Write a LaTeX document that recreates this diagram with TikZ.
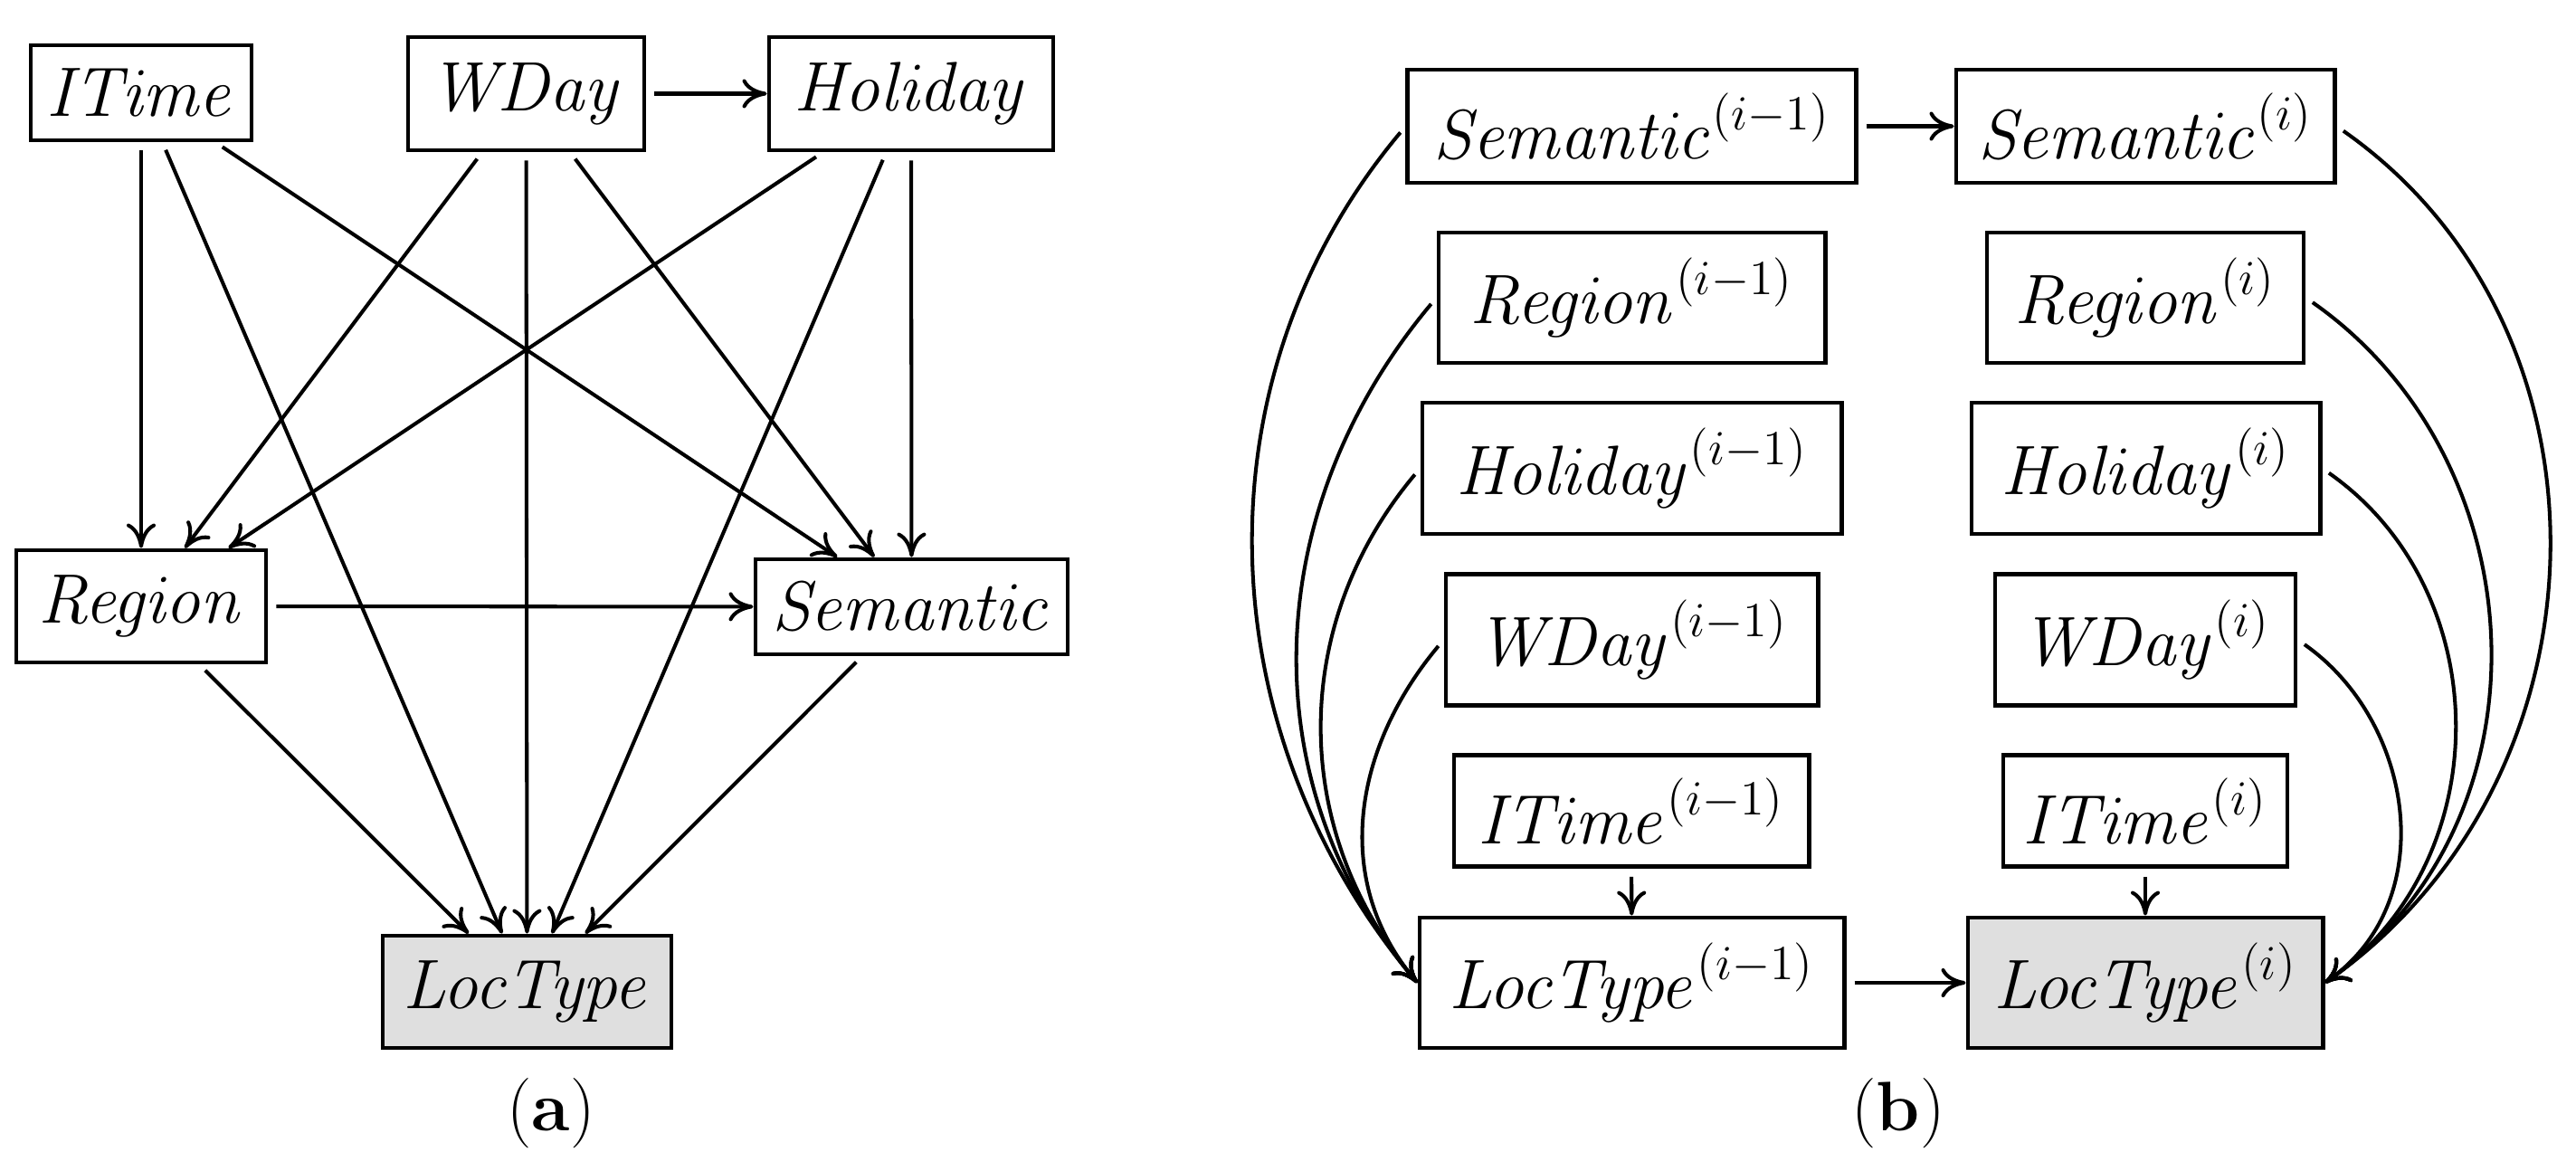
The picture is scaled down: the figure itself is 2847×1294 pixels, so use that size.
\RequirePackage{fix-cm}
\documentclass[tikz,border=0pt]{standalone}
\usetikzlibrary{arrows.meta}
\begin{document}
\begin{tikzpicture}[x=0.01cm,y=-0.01cm,
  font=\fontsize{22}{26}\selectfont,
  box/.style={draw=black, line width=1.35pt, inner sep=0pt, minimum width=#1},
  shaded/.style={fill=gray!25},
  arr/.style={-{To[length=0.27cm,width=0.32cm]}, line width=1.15pt, shorten <=0.09cm},
  caplabel/.style={inner sep=0pt}]
\useasboundingbox (0,0) rectangle (2847,1294);
% ---------- panel (a) ----------
\node[box=2.44cm, minimum height=1.05cm] (itime) at (156,102.5) {$\mathit{ITime}$};
\node[box=2.61cm, minimum height=1.25cm] (wday) at (581.5,103.5) {$\mathit{WDay}$};
\node[box=3.14cm, minimum height=1.25cm] (holiday) at (1007,103.5) {$\mathit{Holiday}$};
\node[box=2.76cm, minimum height=1.24cm] (region) at (156,670) {$\mathit{Region}$};
\node[box=3.45cm, minimum height=1.05cm] (semantic) at (1007.5,670.5) {$\mathit{Semantic}$};
\node[box=3.19cm, minimum height=1.24cm, shaded] (loctype) at (582.5,1096) {$\mathit{LocType}$};
\node[caplabel] (capa) at (609,1230) {(\textbf{a})};

\draw[arr] (wday) -- (holiday);
\draw[arr] (itime) -- (region);
\draw[arr] (itime) -- (loctype);
\draw[arr] (itime) -- (semantic);
\draw[arr] (wday) -- (region);
\draw[arr] (wday) -- (loctype);
\draw[arr] (wday) -- (semantic);
\draw[arr] (holiday) -- (region);
\draw[arr] (holiday) -- (loctype);
\draw[arr] (holiday) -- (semantic);
\draw[arr] (region) -- (semantic);
\draw[arr] (region) -- (loctype);
\draw[arr] (semantic) -- (loctype);

% ---------- panel (b) ----------
\node[box=4.95cm, minimum height=1.25cm] (sem1) at (1803.5,139.5) {$\mathit{Semantic}^{(i-1)}$};
\node[box=4.18cm, minimum height=1.25cm] (sem2) at (2371,139.5) {$\mathit{Semantic}^{(i)}$};
\node[box=4.27cm, minimum height=1.44cm] (reg1) at (1803.5,329) {$\mathit{Region}^{(i-1)}$};
\node[box=3.50cm, minimum height=1.44cm] (reg2) at (2371,329) {$\mathit{Region}^{(i)}$};
\node[box=4.63cm, minimum height=1.45cm] (hol1) at (1803.5,517.5) {$\mathit{Holiday}^{(i-1)}$};
\node[box=3.85cm, minimum height=1.45cm] (hol2) at (2371.5,517.5) {$\mathit{Holiday}^{(i)}$};
\node[box=4.11cm, minimum height=1.45cm] (wd1) at (1803.5,707) {$\mathit{WDay}^{(i-1)}$};
\node[box=3.32cm, minimum height=1.45cm] (wd2) at (2371,707) {$\mathit{WDay}^{(i)}$};
\node[box=3.92cm, minimum height=1.23cm] (it1) at (1803,896) {$\mathit{ITime}^{(i-1)}$};
\node[box=3.14cm, minimum height=1.23cm] (it2) at (2371,896) {$\mathit{ITime}^{(i)}$};
\node[box=4.69cm, minimum height=1.44cm] (loc1) at (1803.5,1086) {$\mathit{LocType}^{(i-1)}$};
\node[box=3.92cm, minimum height=1.44cm, shaded] (loc2) at (2371,1086) {$\mathit{LocType}^{(i)}$};
\node[caplabel] (capb) at (2098,1230) {(\textbf{b})};

\draw[arr] (sem1) -- (sem2);
\draw[arr] (it1) -- (loc1);
\draw[arr] (it2) -- (loc2);
\draw[arr] (loc1) -- (loc2);

\draw[arr] (sem1.west) to[out=230,in=130,looseness=0.98] (loc1.west);
\draw[arr] (reg1.west) to[out=230,in=130,looseness=1.0] (loc1.west);
\draw[arr] (hol1.west) to[out=230,in=130,looseness=1.0] (loc1.west);
\draw[arr] (wd1.west) to[out=230,in=130,looseness=1.02] (loc1.west);

\draw[arr] (sem2.east) to[out=-35,in=35,looseness=1.06] (loc2.east);
\draw[arr] (reg2.east) to[out=-35,in=35,looseness=1.06] (loc2.east);
\draw[arr] (hol2.east) to[out=-35,in=35,looseness=1.06] (loc2.east);
\draw[arr] (wd2.east) to[out=-35,in=35,looseness=1.06] (loc2.east);
\end{tikzpicture}
\end{document}
